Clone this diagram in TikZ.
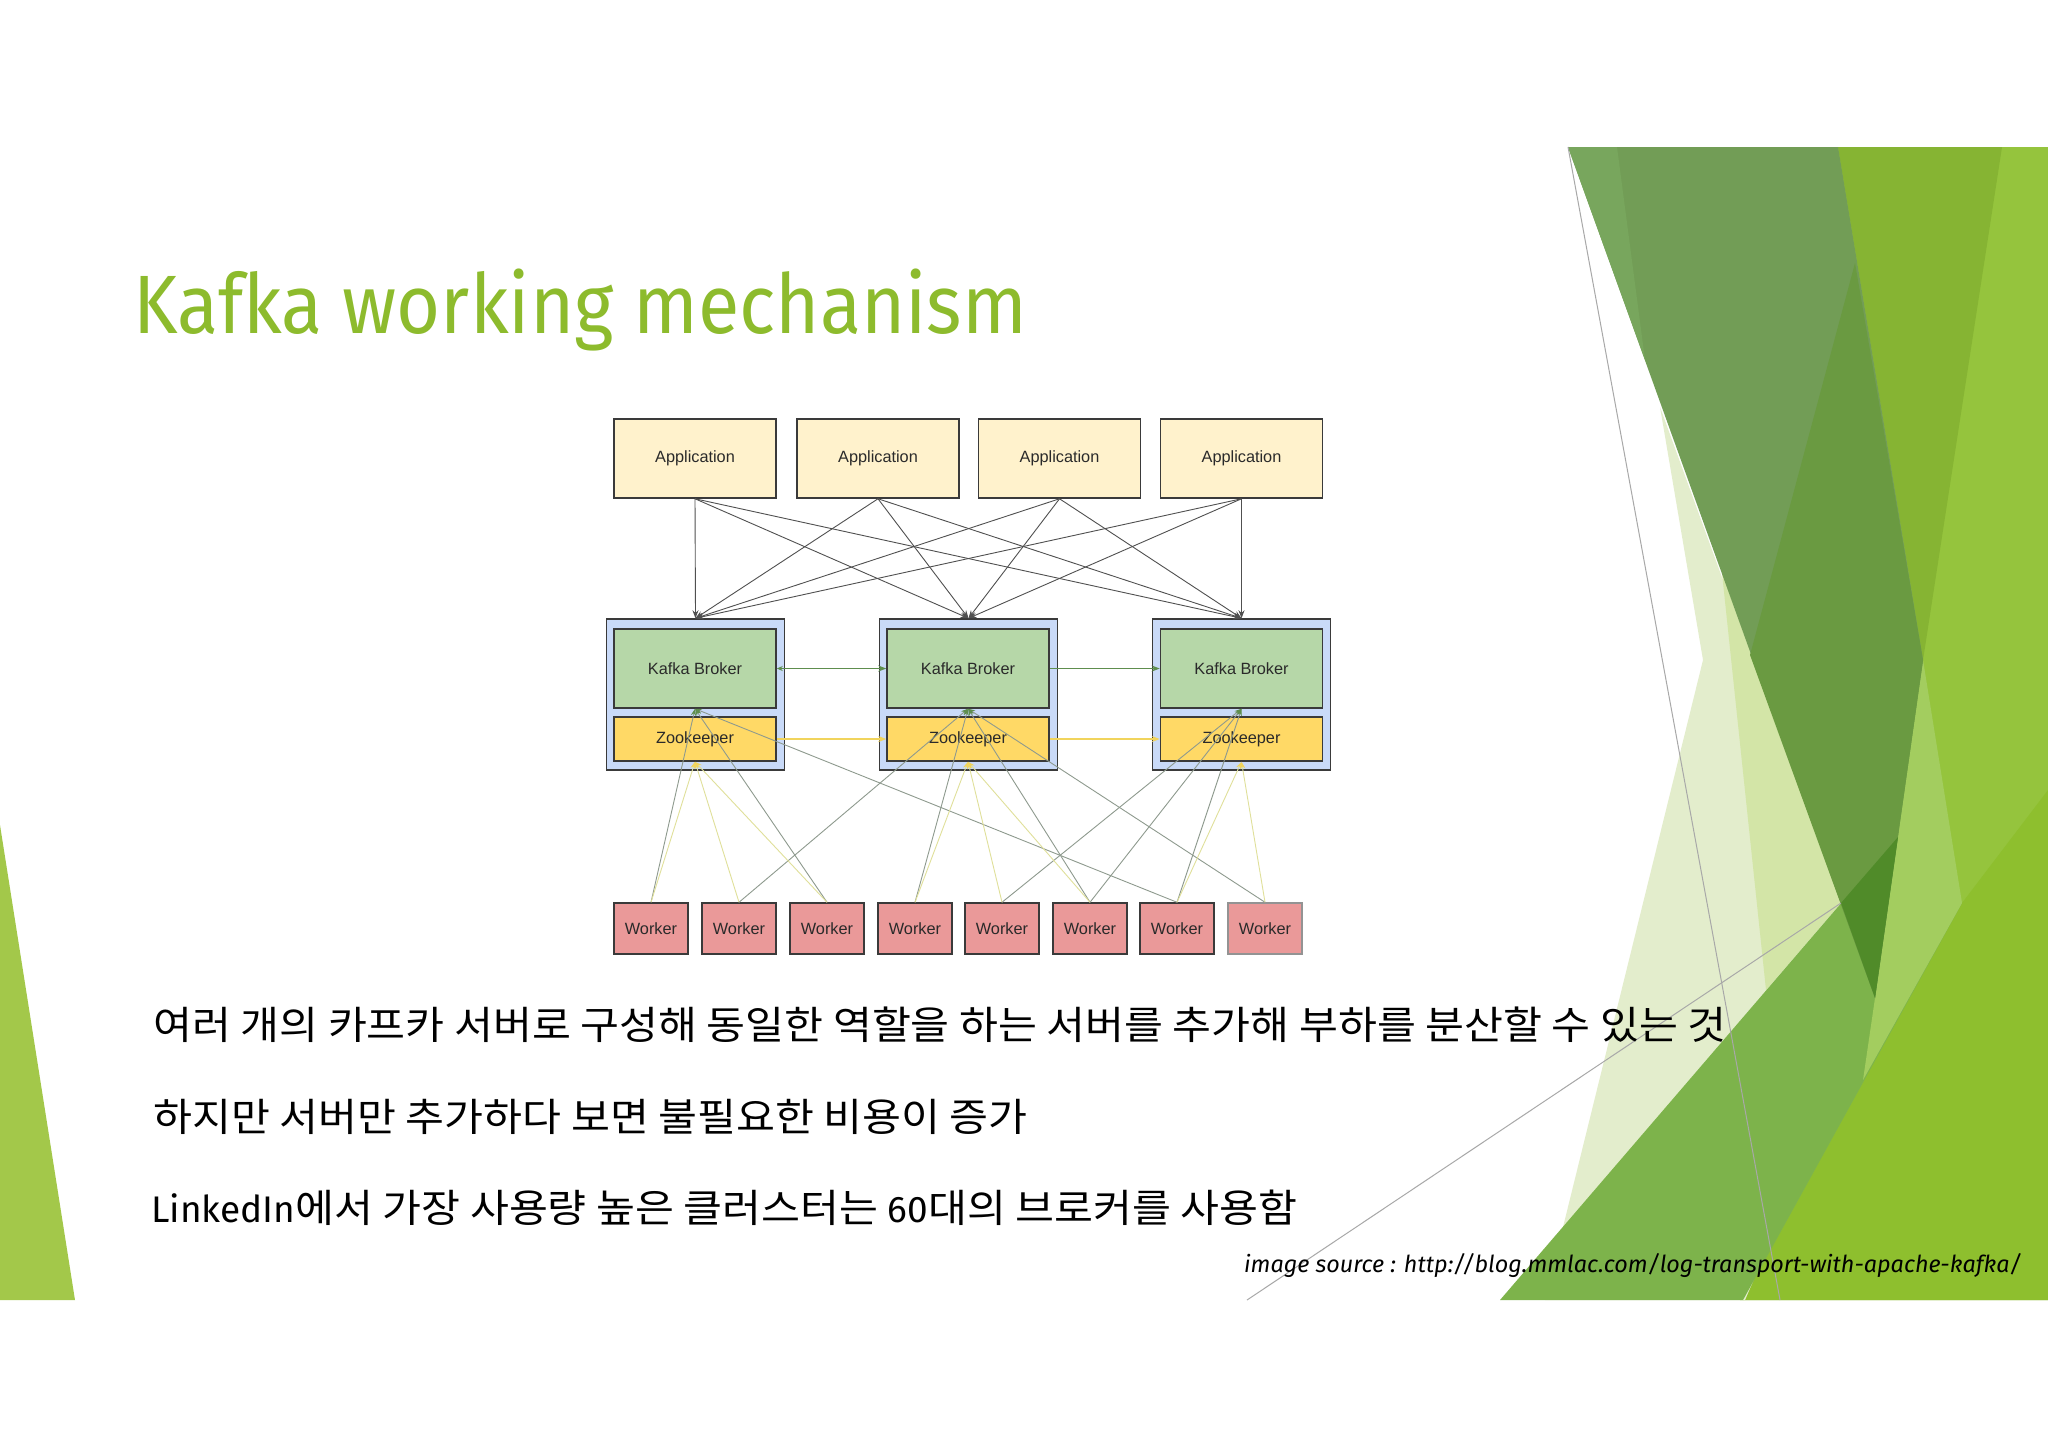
\documentclass[tikz,border=0pt]{standalone}
\usepackage{fontspec}
\setmainfont{Liberation Sans}
\newfontfamily\titlefont{Fira Sans}
\newfontfamily\titlenarrow[FakeStretch=0.913]{Fira Sans}
\newfontfamily\krfont[FakeStretch=1.085]{Noto Sans CJK KR}
\usetikzlibrary{arrows.meta}
\definecolor{titlegreen}{RGB}{141,187,45}
\definecolor{appfill}{HTML}{FFF2CC}
\definecolor{boxline}{HTML}{3A3A3A}
\definecolor{contfill}{HTML}{C9DAF8}
\definecolor{brokerfill}{HTML}{B6D7A8}
\definecolor{zkfill}{HTML}{FFD966}
\definecolor{workerfill}{HTML}{EA9999}
\definecolor{greenarrow}{HTML}{5E8E4E}
\definecolor{yellowarrow}{HTML}{F1D45C}
\definecolor{grayline}{HTML}{8E9A8E}
\definecolor{yellowline}{HTML}{E0E09A}
\definecolor{apparrowc}{HTML}{505050}
\definecolor{labeltext}{HTML}{2A2A2A}
\definecolor{limeA}{HTML}{95C43D}
\definecolor{limeLow}{HTML}{8EBF2E}
\definecolor{limeMid}{HTML}{86B433}
\definecolor{paleA}{HTML}{E3EDCC}
\definecolor{paleB}{HTML}{D3E5A7}
\definecolor{bandG}{HTML}{7DB34B}
\definecolor{kiteG}{HTML}{A3CD5F}
\definecolor{darkA}{HTML}{729D56}
\definecolor{darkB}{HTML}{6A9A41}
\definecolor{darkC}{HTML}{508B29}
\definecolor{darkStrip}{HTML}{78A65D}
\definecolor{leftG}{HTML}{A3C84A}
\definecolor{thinline}{HTML}{A8A8A8}
\begin{document}
\begin{tikzpicture}[x=0.5pt,y=-0.5pt,
  lbl/.style={text=labeltext,font=\fontsize{8.15}{9}\selectfont,inner sep=0pt},
  appbox/.style={lbl,draw=boxline,fill=appfill,line width=0.75pt,minimum width=81pt,minimum height=39.5pt},
  contbox/.style={draw=boxline,fill=contfill,line width=0.75pt,minimum width=89pt,minimum height=75.5pt,inner sep=0pt},
  brokerbox/.style={lbl,draw=boxline,fill=brokerfill,line width=0.75pt,minimum width=81pt,minimum height=39.5pt},
  zkbox/.style={lbl,draw=boxline,fill=zkfill,line width=0.75pt,minimum width=81pt,minimum height=22pt},
  workerbox/.style={lbl,draw=boxline,fill=workerfill,line width=0.75pt,minimum width=37pt,minimum height=25.5pt},
  apparrow/.style={draw=apparrowc,line width=0.45pt,-{Stealth[length=4pt,width=3pt]}},
  bline/.style={draw=grayline,line width=0.45pt,-{Stealth[length=3.5pt,width=2.6pt,color=greenarrow]}},
  zline/.style={draw=yellowline,line width=0.45pt,-{Stealth[length=3.5pt,width=2.6pt,color=yellowarrow]}},
  bconn/.style={draw=greenarrow,line width=0.8pt},
  zconn/.style={draw=yellowarrow,line width=0.8pt},
  krtext/.style={anchor=west,inner sep=0pt,text=black,font=\krfont\fontsize{19.5}{22}\selectfont},
]
\useasboundingbox (0,0) rectangle (2048,1448);
\fill[white] (0,0) rectangle (2048,1448);
% decoration right
\fill[limeA] (1838,147) -- (2048,147) -- (2048,1300) -- (1740,1300) -- cycle;
\fill[limeLow] (1743,1300) -- (1962,903) -- (2048,790) -- (2048,1300) -- cycle;
\fill[limeMid] (1838,147) -- (2002,147) -- (1923,660) -- cycle;
\fill[paleA] (1660,407) -- (1703,660) -- (1545,1300) -- (1745,1300) -- (1875,998) -- cycle;
\fill[paleB] (1722,573) -- (1841,903) -- (1766,990) -- cycle;
\fill[bandG] (1500,1300) -- (1743,1300) -- (1962,903) -- (1898,837) -- cycle;
\fill[kiteG] (1923,660) -- (1962,903) -- (1863,1080) -- (1875,998) -- cycle;
\fill[darkA] (1568,147) -- (1838,147) -- (1923,660) -- (1875,998) -- cycle;
\fill[darkB] (1855,263) -- (1750,655) -- (1875,998) -- (1923,660) -- cycle;
\fill[darkC] (1841,903) -- (1898,837) -- (1875,998) -- cycle;
\fill[darkStrip] (1568,147) -- (1617,147) -- (1645,360) -- cycle;
\draw[thinline,line width=0.5pt] (1568,147) -- (1780,1300);
\draw[thinline,line width=0.5pt] (1247,1300) -- (1841,903);
% decoration left
\fill[leftG] (0,825) -- (75,1300) -- (0,1300) -- cycle;

% title
\node[anchor=base west,inner sep=0pt,text=titlegreen,font=\titlenarrow\fontsize{41.4}{48}\selectfont] (title) at (133,333) {Kafka working mechanism};

% applications
\node[appbox] (a1) at (695,458.5) {Application};
\node[appbox] (a2) at (878,458.5) {Application};
\node[appbox] (a3) at (1059.5,458.5) {Application};
\node[appbox] (a4) at (1241.5,458.5) {Application};
% containers
\node[contbox] (c1) at (695.5,694.5) {};
\node[contbox] (c2) at (968.5,694.5) {};
\node[contbox] (c3) at (1241.5,694.5) {};
% brokers and zookeepers
\node[brokerbox] (b1) at (695,668.5) {Kafka Broker};
\node[brokerbox] (b2) at (968,668.5) {Kafka Broker};
\node[brokerbox] (b3) at (1241.5,668.5) {Kafka Broker};
\node[zkbox] (z1) at (695,739) {Zookeeper};
\node[zkbox] (z2) at (968,739) {Zookeeper};
\node[zkbox] (z3) at (1241.5,739) {Zookeeper};
% workers
\node[workerbox] (w1) at (651,928.5) {Worker};
\node[workerbox] (w2) at (739,928.5) {Worker};
\node[workerbox] (w3) at (827,928.5) {Worker};
\node[workerbox] (w4) at (915,928.5) {Worker};
\node[workerbox] (w5) at (1002,928.5) {Worker};
\node[workerbox] (w6) at (1090,928.5) {Worker};
\node[workerbox] (w7) at (1177,928.5) {Worker};
\node[workerbox,draw=boxline!55] (w8) at (1265,928.5) {Worker};

% application -> broker arrows
\foreach \a in {a1,a2,a3,a4}{
  \foreach \c in {c1,c2,c3}{
    \draw[apparrow] (\a.south) -- (\c.north);
  }
}
% broker / zookeeper links
\draw[bconn,{Stealth[length=3pt,width=2.5pt]}-{Stealth[length=4pt,width=3pt]}] (b1.east) -- (b2.west);
\draw[bconn,-{Stealth[length=4pt,width=3pt]}] (b2.east) -- (b3.west);
\draw[zconn,-{Stealth[length=4pt,width=3pt]}] (z1.east) -- (z2.west);
\draw[zconn,-{Stealth[length=4pt,width=3pt]}] (z2.east) -- (z3.west);

% worker connections
\foreach \w/\b in {w1/b1,w3/b1,w7/b1,w2/b2,w4/b2,w6/b2,w8/b2,w5/b3,w6/b3,w7/b3}{
  \draw[bline] (\w.north) -- (\b.south);
}
\foreach \w/\z in {w1/z1,w2/z1,w3/z1,w4/z2,w5/z2,w6/z2,w7/z3,w8/z3}{
  \draw[zline] (\w.north) -- (\z.south);
}

% body text
\node[krtext] (t1) at (153,1025) {여러 개의 카프카 서버로 구성해 동일한 역할을 하는 서버를 추가해 부하를 분산할 수 있는 것};
\node[krtext] (t2) at (153,1117) {하지만 서버만 추가하다 보면 불필요한 비용이 증가};
\node[krtext] (t3) at (151,1208) {{\titlefont\fontsize{18.5}{22}\selectfont LinkedIn}에서 가장 사용량 높은 클러스터는 {\titlefont\fontsize{18.5}{22}\selectfont 60}대의 브로커를 사용함};
\node[anchor=base east,inner sep=0pt,text=black,font=\titlefont\itshape\fontsize{11.7}{13}\selectfont] (src) at (2022,1272) {image source : http://blog.mmlac.com/log-transport-with-apache-kafka/};
\end{tikzpicture}
\end{document}
